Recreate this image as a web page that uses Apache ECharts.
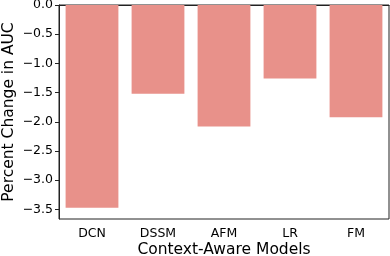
<!DOCTYPE html>
<html><head><meta charset="utf-8">
<script src="https://cdn.jsdelivr.net/npm/echarts@6/dist/echarts.min.js"></script>
<style>html,body{margin:0;padding:0;background:#fff}#c{width:390px;height:256px}</style>
</head><body><div id="c"></div>
<script>
const categories = ['DCN', 'DSSM', 'AFM', 'LR', 'FM'];
const values = [-3.47, -1.52, -2.08, -1.26, -1.92];
const yTicks = [0, -0.5, -1.0, -1.5, -2.0, -2.5, -3.0, -3.5];

const chart = echarts.init(document.getElementById('c'), null, {renderer: 'canvas'});
const font = 'DejaVu Sans';
chart.setOption({
  animation: false,
  grid: {left: 59, right: 1, top: 5, bottom: 37, show: true, borderColor: '#222', borderWidth: 1,
         containLabel: false, outerBoundsMode: 'none'},
  xAxis: {
    type: 'category', data: categories,
    name: 'Context-Aware Models', nameLocation: 'middle', nameGap: 23, nameMoveOverlap: false,
    nameTextStyle: {fontFamily: font, fontSize: 15.5, color: '#000'},
    axisLine: {lineStyle: {color: '#222'}},
    axisTick: {alignWithLabel: true, length: 4, lineStyle: {color: '#222'}},
    axisLabel: {fontFamily: font, fontSize: 12.5, color: '#000', margin: 8}
  },
  yAxis: {
    type: 'value', min: -3.664, max: 0,
    name: 'Percent Change in AUC', nameLocation: 'middle', nameGap: 42, nameMoveOverlap: false,
    nameTextStyle: {fontFamily: font, fontSize: 15.5, color: '#000'},
    splitLine: {show: false},
    axisLine: {show: true, lineStyle: {color: '#222'}},
    axisTick: {show: true, length: 4, lineStyle: {color: '#222'}, customValues: yTicks},
    axisLabel: {fontFamily: font, fontSize: 12.5, color: '#000', margin: 6, customValues: yTicks,
      formatter: v => (v < 0 ? '\u2212' : '') + Math.abs(v).toFixed(1)}
  },
  series: [{
    type: 'bar', data: values, barWidth: '80%',
    itemStyle: {color: '#E8918A'}
  }]
});
</script></body></html>
